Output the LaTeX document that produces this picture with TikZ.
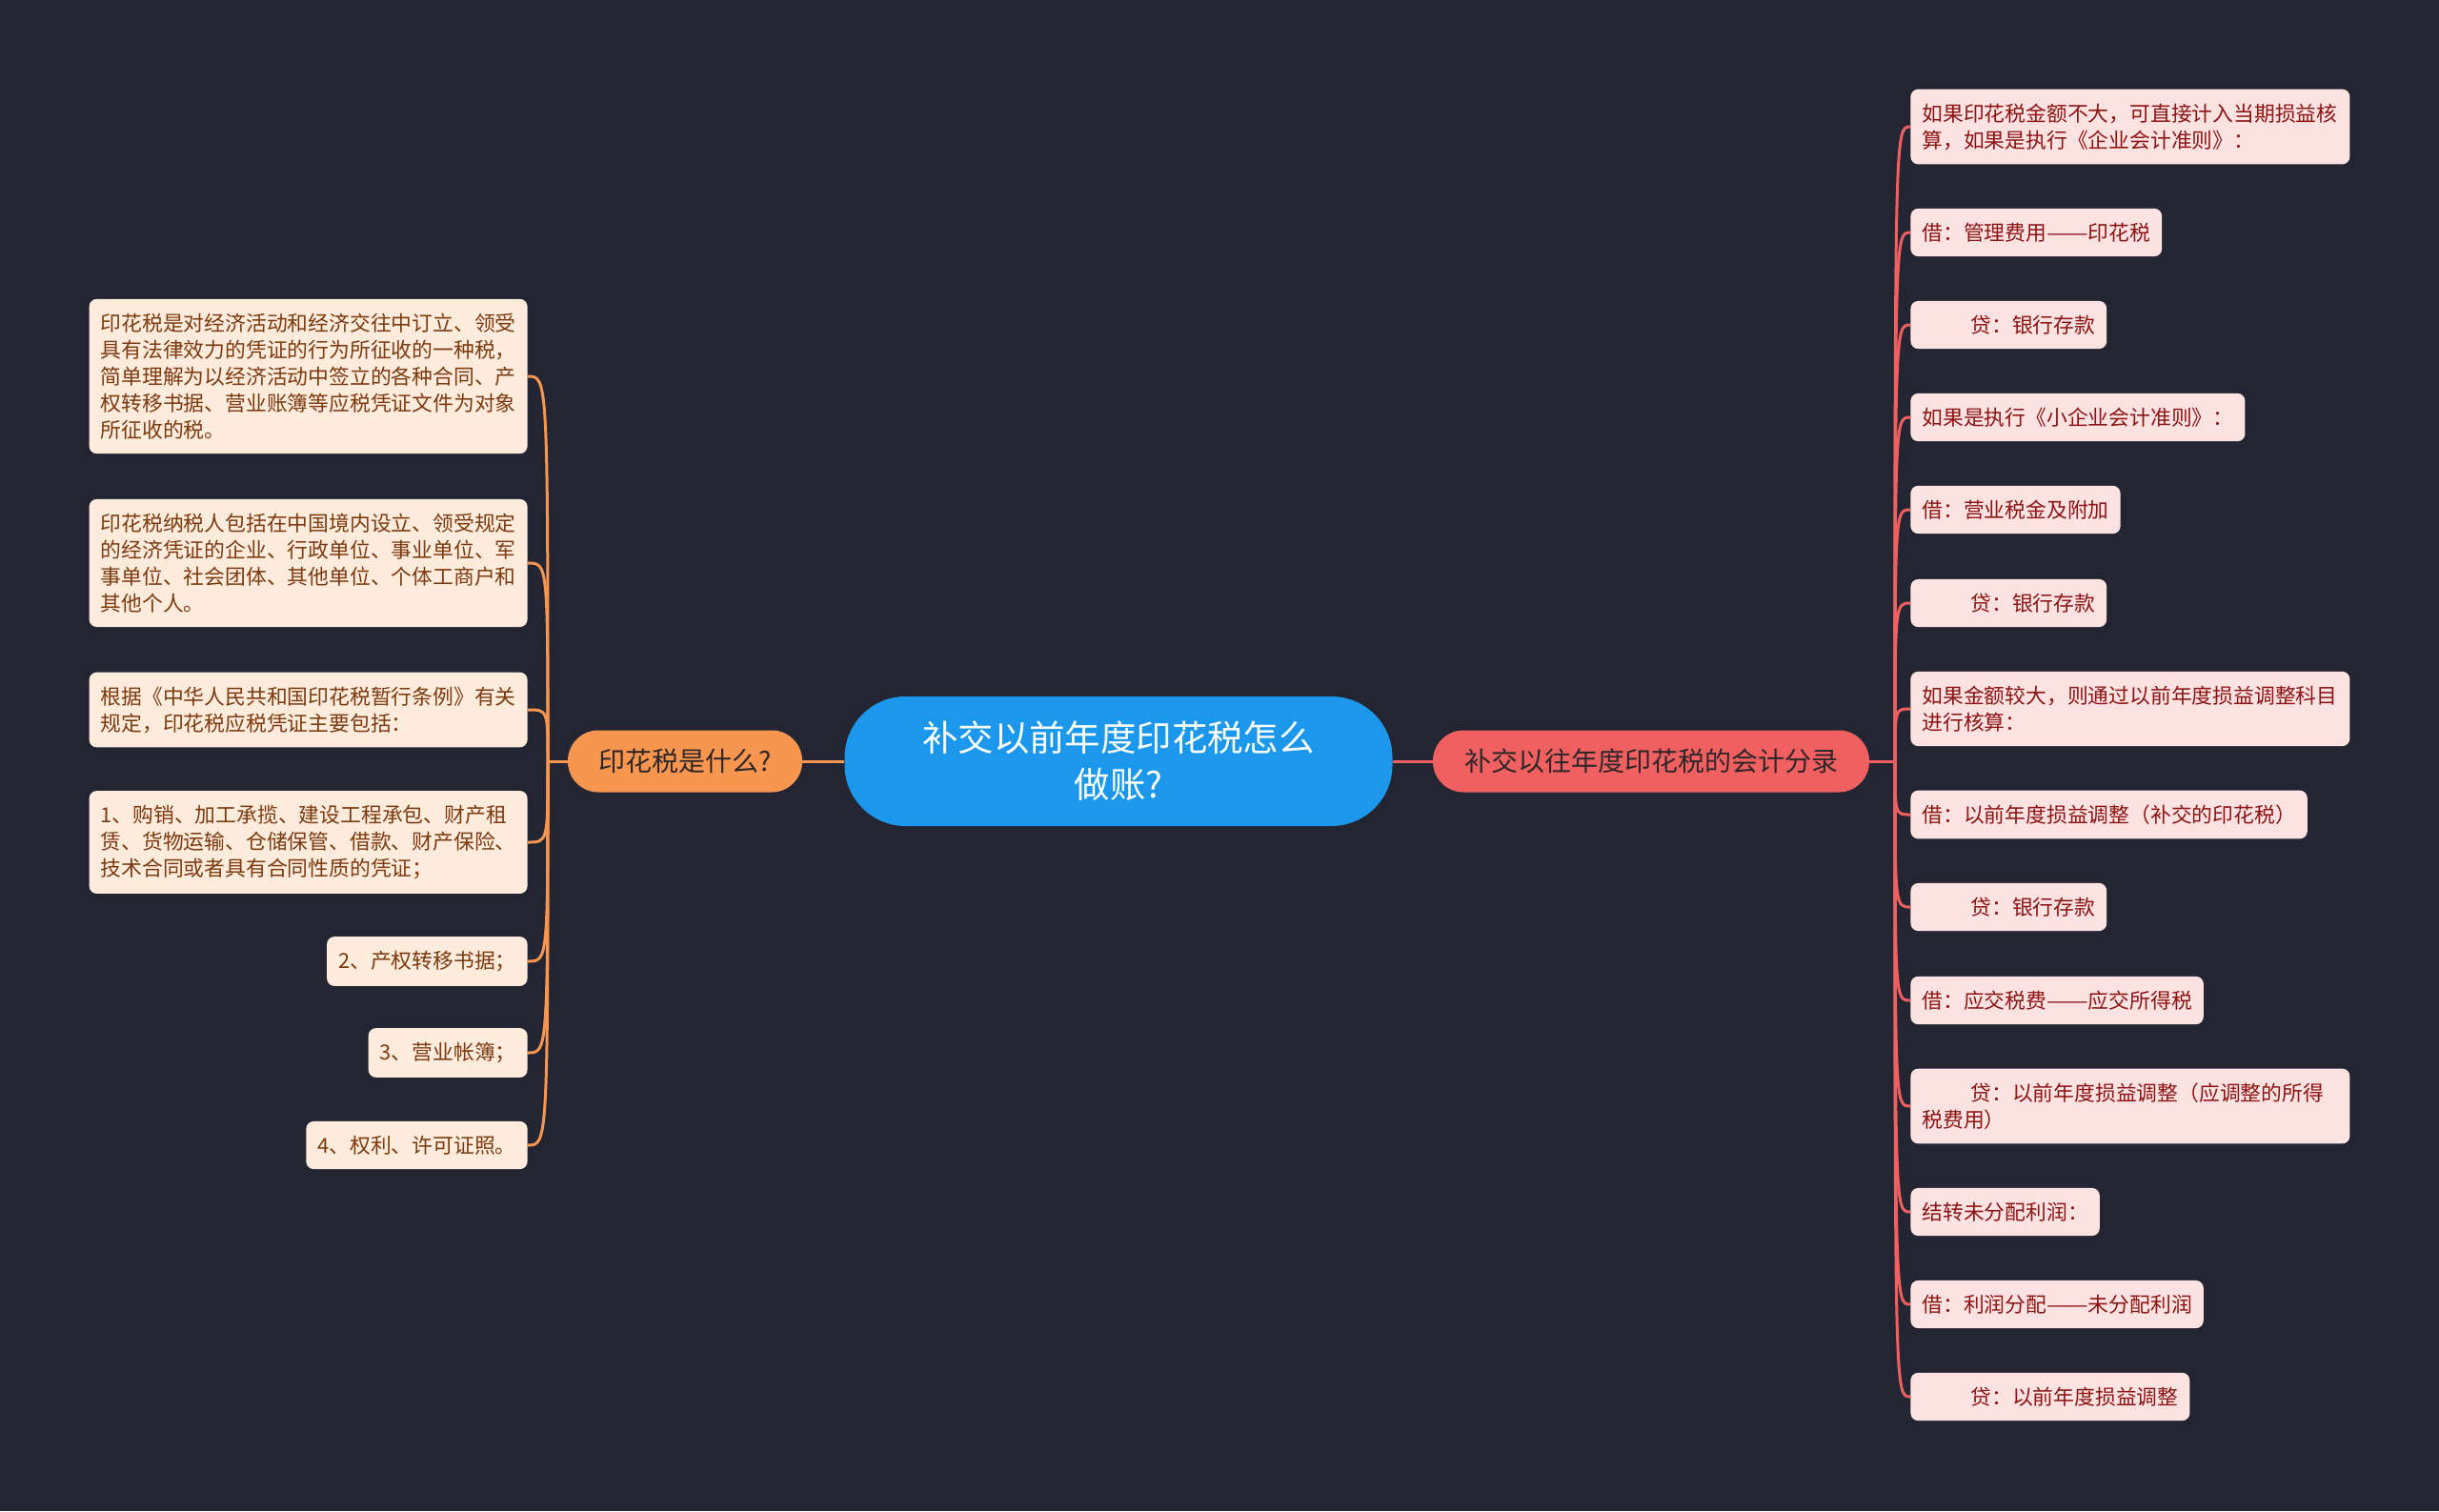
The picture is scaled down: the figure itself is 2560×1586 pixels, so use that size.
\documentclass[tikz,border=0pt]{standalone}
\usepackage{fontspec}
\usepackage{graphicx}
\setmainfont{Noto Sans CJK SC}
\definecolor{bg}{HTML}{232632}
\definecolor{cblue}{HTML}{1B98EB}
\definecolor{corange}{HTML}{F89650}
\definecolor{cred}{HTML}{F16060}
\definecolor{lfill}{HTML}{FDEBDC}
\definecolor{ltext}{HTML}{7C3A10}
\definecolor{rfill}{HTML}{FDE2E2}
\definecolor{rtext}{HTML}{8B1414}
\definecolor{darktext}{HTML}{2E2628}
\newcommand{\longdash}{\resizebox{21.8pt}{\height}{——}}
\begin{document}
\begin{tikzpicture}[x=0.5pt,y=-0.5pt,
  leafbase/.style={rounded corners=4pt, inner xsep=6pt, inner ysep=7.5pt, minimum height=25pt, align=left, font=\fontsize{10.9}{14}\selectfont},
  lleaf/.style={leafbase, fill=lfill, text=ltext, anchor=east},
  rleaf/.style={leafbase, fill=rfill, text=rtext, anchor=west},
  rootnode/.style={fill=cblue, text=white, rounded corners=32pt, minimum width=287.5pt, minimum height=68pt, align=center, inner sep=0pt, font=\fontsize{18.7}{24.5}\selectfont},
  mainnode/.style={rounded corners=16pt, minimum height=32.5pt, inner sep=0pt, text=darktext, font=\fontsize{14}{17}\selectfont},
  lline/.style={draw=corange, line width=1.5pt},
  rline/.style={draw=cred, line width=1.5pt}
]
\fill[bg] (0,0) rectangle (2560,1586);
\useasboundingbox (0,0) rectangle (2560,1586);

% central and main nodes
\node[rootnode] (root) at (1174,799) {补交以前年度印花税怎么\\做账?};
\node[mainnode, fill=corange, minimum width=123pt] (orange) at (719,799) {印花税是什么?};
\node[mainnode, fill=cred, minimum width=229pt] (red) at (1733,799) {补交以往年度印花税的会计分录};

\coordinate (JL) at (575,799);
\coordinate (JR) at (1989,799);

% left leaves
\node[lleaf, text width=218pt] (l1) at (554,395) {印花税是对经济活动和经济交往中订立、领受\\具有法律效力的凭证的行为所征收的一种税，\\简单理解为以经济活动中签立的各种合同、产\\权转移书据、营业账簿等应税凭证文件为对象\\所征收的税。};
\node[lleaf, text width=218pt] (l2) at (554,591) {印花税纳税人包括在中国境内设立、领受规定\\的经济凭证的企业、行政单位、事业单位、军\\事单位、社会团体、其他单位、个体工商户和\\其他个人。};
\node[lleaf, text width=218pt] (l3) at (554,745) {根据《中华人民共和国印花税暂行条例》有关\\规定，印花税应税凭证主要包括：};
\node[lleaf, text width=218pt] (l4) at (554,884) {1、购销、加工承揽、建设工程承包、财产租\\赁、货物运输、仓储保管、借款、财产保险、\\技术合同或者具有合同性质的凭证；};
\node[lleaf] (l5) at (554,1009) {2、产权转移书据；};
\node[lleaf] (l6) at (554,1105) {3、营业帐簿；};
\node[lleaf] (l7) at (554,1202) {4、权利、许可证照。};

% right leaves
\node[rleaf, text width=218.5pt] (r1) at (2005,133) {如果印花税金额不大，可直接计入当期损益核\\算，如果是执行《企业会计准则》：};
\node[rleaf] (r2) at (2005,244) {借：管理费用\longdash 印花税};
\node[rleaf] (r3) at (2005,341) {\hspace*{25.5pt}贷：银行存款};
\node[rleaf] (r4) at (2005,438) {如果是执行《小企业会计准则》：};
\node[rleaf] (r5) at (2005,535) {借：营业税金及附加};
\node[rleaf] (r6) at (2005,633) {\hspace*{25.5pt}贷：银行存款};
\node[rleaf, text width=218.5pt] (r7) at (2005,744) {如果金额较大，则通过以前年度损益调整科目\\进行核算：};
\node[rleaf] (r8) at (2005,855) {借：以前年度损益调整（补交的印花税）};
\node[rleaf] (r9) at (2005,952) {\hspace*{25.5pt}贷：银行存款};
\node[rleaf] (r10) at (2005,1050) {借：应交税费\longdash 应交所得税};
\node[rleaf, text width=218.5pt] (r11) at (2005,1161) {\hspace*{25.5pt}贷：以前年度损益调整（应调整的所得\\税费用）};
\node[rleaf] (r12) at (2005,1272) {结转未分配利润：};
\node[rleaf] (r13) at (2005,1369) {借：利润分配\longdash 未分配利润};
\node[rleaf] (r14) at (2005,1466) {\hspace*{25.5pt}贷：以前年度损益调整};

% connectors
\draw[lline] (root.west) -- (orange.east);
\draw[lline] (orange.west) -- (JL);
\draw[rline] (root.east) -- (red.west);
\draw[rline] (red.east) -- (JR);
\foreach \n in {l1,l2,l3,l4,l5,l6,l7}
  \draw[lline] (JL) .. controls (JL |- \n.east) .. (\n.east);
\foreach \n in {r1,r2,r3,r4,r5,r6,r7,r8,r9,r10,r11,r12,r13,r14}
  \draw[rline] (JR) .. controls (JR |- \n.west) .. (\n.west);
\end{tikzpicture}
\end{document}
